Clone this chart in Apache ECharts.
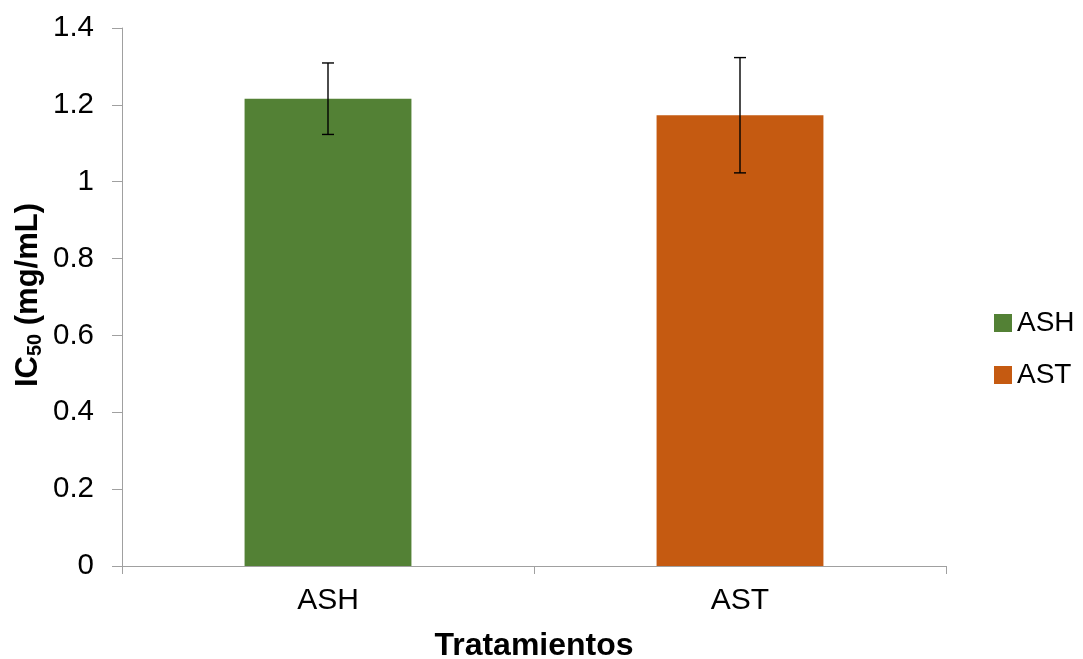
<!DOCTYPE html>
<html>
<head>
<meta charset="utf-8">
<script src="https://cdn.jsdelivr.net/npm/echarts@6/dist/echarts.min.js"></script>
<style>
html,body{margin:0;padding:0;background:#fff;}
#chart{width:1083px;height:659px;}
</style>
</head>
<body>
<div id="chart"></div>
<script>
const categories = ['ASH', 'AST'];
const means = [1.216, 1.173];
const errors = [0.093, 0.150];
const seriesColors = ['#538135', '#C55A11'];
const yMin = 0, yMax = 1.4, yStep = 0.2;

const FONT = 'Liberation Sans, Arial, sans-serif';
const chart = echarts.init(document.getElementById('chart'), null, {renderer: 'canvas'});

const barSeries = categories.map((name, i) => ({
  name: name,
  type: 'bar',
  stack: 'total',
  barWidth: '40.5%',
  itemStyle: {color: seriesColors[i]},
  data: categories.map((c, j) => (j === i ? means[j] : '-'))
}));

const errData = categories.map((c, i) => [i, means[i] - errors[i], means[i] + errors[i]]);

const option = {
  animation: false,
  backgroundColor: '#ffffff',
  grid: {left: 122, right: 137, top: 28, bottom: 93, containLabel: false, outerBoundsMode: 'none'},
  legend: {
    orient: 'vertical',
    left: 989,
    top: 304,
    itemWidth: 18,
    itemHeight: 18,
    itemGap: 24,
    icon: 'rect',
    data: categories,
    textStyle: {fontFamily: FONT, fontSize: 28, color: '#000'}
  },
  xAxis: {
    type: 'category',
    data: categories,
    name: 'Tratamientos',
    nameLocation: 'middle',
    nameGap: 64,
    nameTextStyle: {fontFamily: FONT, fontSize: 32, fontWeight: 'bold', color: '#000', verticalAlign: 'top'},
    axisLine: {show: true, lineStyle: {color: '#A0A0A0', width: 1}},
    axisTick: {show: true, alignWithLabel: false, length: 8, lineStyle: {color: '#A0A0A0'}},
    axisLabel: {fontFamily: FONT, fontSize: 30, color: '#000', margin: 20},
    splitLine: {show: false}
  },
  yAxis: {
    type: 'value',
    min: yMin,
    max: yMax,
    interval: yStep,
    axisLine: {show: true, lineStyle: {color: '#A0A0A0', width: 1}},
    axisTick: {show: true, length: 10, lineStyle: {color: '#A0A0A0'}},
    axisLabel: {
      fontFamily: FONT, fontSize: 29.5, color: '#000', margin: 28,
      formatter: v => String(+v.toFixed(1))
    },
    splitLine: {show: false}
  },
  graphic: [{
    type: 'text',
    x: 28,
    y: 295,
    rotation: Math.PI / 2,
    style: {
      text: '{b|IC}{s|50}{b| (mg/mL)}',
      align: 'center',
      verticalAlign: 'middle',
      fill: '#000',
      rich: {
        b: {fontFamily: FONT, fontSize: 31, fontWeight: 'bold', fill: '#000', lineHeight: 34, verticalAlign: 'middle'},
        s: {fontFamily: FONT, fontSize: 20, fontWeight: 'bold', fill: '#000', lineHeight: 20, verticalAlign: 'bottom'}
      }
    }
  }],
  series: barSeries.concat([{
    name: 'error',
    type: 'custom',
    data: errData,
    z: 10,
    renderItem: function (params, api) {
      const x = api.value(0);
      const lo = api.coord([x, api.value(1)]);
      const hi = api.coord([x, api.value(2)]);
      const hw = 6;
      const style = {stroke: '#000', lineWidth: 1.4};
      return {
        type: 'group',
        children: [
          {type: 'line', shape: {x1: hi[0], y1: hi[1], x2: lo[0], y2: lo[1]}, style: style},
          {type: 'line', shape: {x1: hi[0] - hw, y1: hi[1], x2: hi[0] + hw, y2: hi[1]}, style: style},
          {type: 'line', shape: {x1: lo[0] - hw, y1: lo[1], x2: lo[0] + hw, y2: lo[1]}, style: style}
        ]
      };
    }
  }])
};
chart.setOption(option);
</script>
</body>
</html>
